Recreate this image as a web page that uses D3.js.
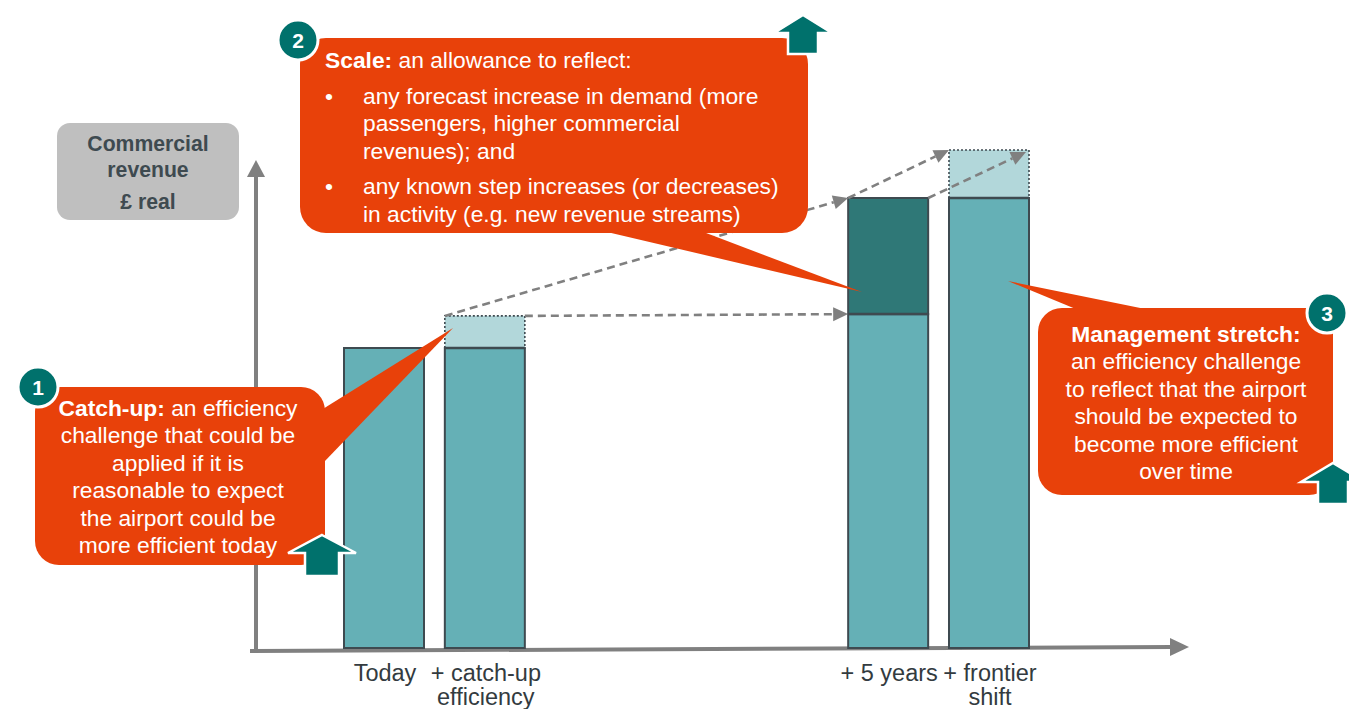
<!DOCTYPE html>
<html>
<head>
<meta charset="utf-8">
<script src="https://cdn.jsdelivr.net/npm/d3@7"></script>
<style>
body { margin: 0; background: #fff; }
svg { display: block; font-family: "Liberation Sans", Arial, sans-serif; }
</style>
</head>
<body>
<script>
const WIDTH = 1349
const HEIGHT = 709

// data (Today = 100)
const categories = [["Today"], ["+ catch-up", "efficiency"], ["+ 5 years"], ["+ frontier", "shift"]]
const slots = [0, 1, 5, 6]
const baseValues = [100, 100, 111.3, 150]
const stepValues = [0, 10.7, 38.7, 16]
const stepKinds = ["none", "light", "dark", "light"]

const axisLabel = ["Commercial", "revenue", "£ real"]

const callout1 = ["an efficiency", "challenge that could be", "applied if it is",
    "reasonable to expect", "the airport could be", "more efficient today"]
const callout2Lead = "an allowance to reflect:"
const callout2Bullets = [
    ["any forecast increase in demand (more", "passengers, higher commercial", "revenues); and"],
    ["any known step increases (or decreases)", "in activity (e.g. new revenue streams)"]
]
const callout3 = ["an efficiency challenge", "to reflect that the airport",
    "should be expected to", "become more efficient", "over time"]

const ORANGE = '#E8410A'
const TEAL = '#00716C'
const BAR = '#65B0B6'
const BAR_DARK = '#2F7877'
const BAR_LIGHT = '#B2D7DA'
const EDGE = '#3E4A50'
const GREY = '#808080'
const BAR_W = 80
const FS = 22.8

const svg = d3.select('body')
    .append('svg')
    .attr('width', WIDTH)
    .attr('height', HEIGHT)

const x = d3.scaleLinear().domain([0, 6]).range([384, 989])
const y = d3.scaleLinear().domain([0, 100]).range([648, 348])

const bars = categories.map((c, i) => ({
    label: c,
    left: x(slots[i]) - BAR_W / 2,
    right: x(slots[i]) + BAR_W / 2,
    base: baseValues[i],
    step: stepValues[i],
    kind: stepKinds[i]
}))

// axes
const axes = svg.append('g').attr('fill', GREY).attr('stroke', GREY)
axes.append('line')
    .attr('x1', 256).attr('y1', y(0) + 5)
    .attr('x2', 256).attr('y2', 174)
    .attr('stroke-width', 4)
axes.append('path')
    .attr('d', 'M247,177 L256,160 L265,177 Z')
    .attr('stroke', 'none')
axes.append('line')
    .attr('x1', 250).attr('y1', y(0) + 3)
    .attr('x2', 1172).attr('y2', y(0) - 1)
    .attr('stroke-width', 4)
axes.append('path')
    .attr('d', `M1170,${y(0) - 10} L1189,${y(0) - 1} L1170,${y(0) + 8} Z`)
    .attr('stroke', 'none')

// y label box
svg.append('rect')
    .attr('x', 57).attr('y', 123)
    .attr('width', 182).attr('height', 97)
    .attr('rx', 13)
    .attr('fill', '#BFBFBF')
svg.append('g')
    .selectAll('text')
    .data(axisLabel)
    .join('text')
    .attr('x', 148)
    .attr('y', (d, i) => [151, 177, 209][i])
    .attr('text-anchor', 'middle')
    .attr('font-weight', 'bold')
    .attr('font-size', 21.2)
    .attr('fill', EDGE)
    .text(d => d)

// bars
const gBars = svg.append('g')
gBars.selectAll('rect.base')
    .data(bars)
    .join('rect')
    .attr('class', 'base')
    .attr('x', d => d.left)
    .attr('width', BAR_W)
    .attr('y', d => y(d.base))
    .attr('height', d => y(0) - y(d.base))
    .attr('fill', BAR)
    .attr('stroke', EDGE)
    .attr('stroke-width', 2)

gBars.selectAll('rect.step')
    .data(bars.filter(d => d.step > 0))
    .join('rect')
    .attr('class', 'step')
    .attr('x', d => d.left)
    .attr('width', BAR_W)
    .attr('y', d => y(d.base + d.step))
    .attr('height', d => y(d.base) - y(d.base + d.step))
    .attr('fill', d => d.kind === 'dark' ? BAR_DARK : BAR_LIGHT)
    .attr('stroke', EDGE)
    .attr('stroke-width', d => d.kind === 'dark' ? 2 : 1.6)
    .attr('stroke-dasharray', d => d.kind === 'dark' ? null : '2,2')

// redraw base tops solid over dotted step edges
gBars.selectAll('line.top')
    .data(bars.filter(d => d.step > 0))
    .join('line')
    .attr('x1', d => d.left).attr('x2', d => d.right)
    .attr('y1', d => y(d.base)).attr('y2', d => y(d.base))
    .attr('stroke', EDGE)
    .attr('stroke-width', 2.5)

// category labels
svg.append('g')
    .selectAll('text')
    .data(bars)
    .join('text')
    .attr('y', 681)
    .attr('text-anchor', 'middle')
    .attr('font-size', 23.5)
    .attr('fill', '#333B40')
    .selectAll('tspan')
    .data(d => d.label.map(l => ({ l, cx: (d.left + d.right) / 2 + 1 })))
    .join('tspan')
    .attr('x', d => d.cx)
    .attr('dy', (d, i) => i === 0 ? 0 : 24)
    .text(d => d.l)

// dashed connectors
const pt = (i, level, side) => [
    side === 'l' ? bars[i].left : bars[i].right,
    y(level === 'top' ? bars[i].base + bars[i].step : bars[i].base)
]
const connectors = [
    [pt(1, 'top', 'l'), pt(2, 'top', 'l')],
    [pt(1, 'top', 'r'), pt(2, 'base', 'l')],
    [pt(2, 'top', 'l'), pt(3, 'top', 'l')],
    [pt(2, 'top', 'r'), [pt(3, 'top', 'r')[0] - 3, pt(3, 'top', 'r')[1] + 2]]
]
const gConn = svg.append('g')
connectors.forEach(([a, b]) => {
    const ang = Math.atan2(b[1] - a[1], b[0] - a[0])
    const L = 15, W = 7
    const bx = b[0] - L * Math.cos(ang), by = b[1] - L * Math.sin(ang)
    gConn.append('line')
        .attr('x1', a[0]).attr('y1', a[1])
        .attr('x2', bx).attr('y2', by)
        .attr('stroke', GREY)
        .attr('stroke-width', 2.6)
        .attr('stroke-dasharray', '8,5')
    gConn.append('path')
        .attr('d', `M${b[0]},${b[1]} L${bx - W * Math.sin(ang)},${by + W * Math.cos(ang)} L${bx + W * Math.sin(ang)},${by - W * Math.cos(ang)} Z`)
        .attr('fill', GREY)
})

// callouts
function callout(box, wedge) {
    const g = svg.append('g').attr('fill', ORANGE)
    g.append('path').attr('d', 'M' + wedge.map(p => p.join(',')).join('L') + 'Z')
    g.append('rect')
        .attr('x', box.x).attr('y', box.y)
        .attr('width', box.w).attr('height', box.h)
        .attr('rx', box.r)
    return g
}
function badge(cx, cy, n) {
    svg.append('circle')
        .attr('cx', cx).attr('cy', cy).attr('r', 20)
        .attr('fill', TEAL)
        .attr('stroke', '#fff')
        .attr('stroke-width', 3)
    svg.append('text')
        .attr('x', cx).attr('y', cy + 8)
        .attr('text-anchor', 'middle')
        .attr('font-weight', 'bold')
        .attr('font-size', 21)
        .attr('fill', '#fff')
        .text(n)
}
function upArrow(cx, tip, headHalf, headH, stemHalf, bottom) {
    const b = tip + headH
    svg.append('path')
        .attr('d', `M${cx},${tip} L${cx + headHalf},${b} L${cx + stemHalf},${b} L${cx + stemHalf},${bottom} L${cx - stemHalf},${bottom} L${cx - stemHalf},${b} L${cx - headHalf},${b} Z`)
        .attr('fill', TEAL)
        .attr('stroke', '#fff')
        .attr('stroke-width', 2.5)
        .attr('stroke-linejoin', 'miter')
}
function centredText(lines, lead, cx, y0, lh) {
    const t = svg.append('g')
        .attr('fill', '#fff')
        .attr('font-size', FS)
        .attr('text-anchor', 'middle')
    const all = lead ? [null].concat(lines.slice(1)) : lines
    all.forEach((l, i) => {
        const txt = t.append('text').attr('x', cx).attr('y', y0 + i * lh)
        if (i === 0 && lead) {
            txt.append('tspan').attr('font-weight', 'bold').text(lead[0])
            if (lead[1]) txt.append('tspan').text(' ' + lead[1])
        } else {
            txt.text(l)
        }
    })
}

// 1 catch-up
callout({ x: 35, y: 387, w: 290, h: 178, r: 24 }, [[318, 412], [324, 462], [453, 328]])
centredText(callout1, ['Catch-up:', callout1[0]], 178, 416, 27.4)
badge(38, 387, '1')
upArrow(322, 535, 34, 18, 17, 576)

// 2 scale
callout({ x: 300, y: 38, w: 508, h: 195, r: 26 }, [[590, 228], [693, 228], [862, 292]])
const t2 = svg.append('g').attr('fill', '#fff').attr('font-size', FS)
const s2 = t2.append('text').attr('x', 325).attr('y', 68)
s2.append('tspan').attr('font-weight', 'bold').text('Scale:')
s2.append('tspan').text(' ' + callout2Lead)
let yy = 104
callout2Bullets.forEach((b, bi) => {
    t2.append('text').attr('x', 325).attr('y', yy).text('•')
    b.forEach(l => {
        t2.append('text').attr('x', 363).attr('y', yy).text(l)
        yy += 27.4
    })
    yy += 8
})
badge(298, 40, '2')
upArrow(803, 15, 29, 18, 15, 54)

// 3 management stretch
callout({ x: 1038, y: 308, w: 295, h: 187, r: 24 }, [[1083, 312], [1160, 312], [1008, 281]])
centredText(['', ...callout3], ['Management stretch:', null], 1186, 342, 27.4)
badge(1327, 313, '3')
upArrow(1333, 463, 32, 19, 15, 504)
</script>
</body>
</html>
